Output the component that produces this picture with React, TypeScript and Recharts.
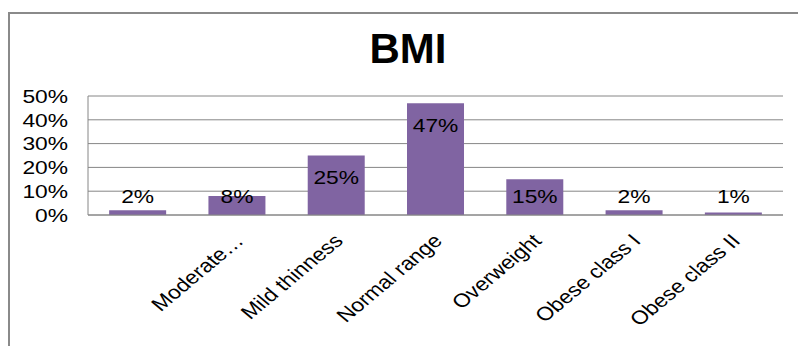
import { BarChart, Bar, XAxis, YAxis, CartesianGrid, LabelList } from 'recharts';

const categories = [
  'Severe thinness',
  'Moderate thinness',
  'Mild thinness',
  'Normal range',
  'Overweight',
  'Obese class I',
  'Obese class II',
];
// what is actually printed under each bar in the original
const tickLabels = ['', 'Moderate…', 'Mild thinness', 'Normal range', 'Overweight', 'Obese class I', 'Obese class II'];
const shares = [2, 8, 25, 47, 15, 2, 1];
const yTicks = [0, 10, 20, 30, 40, 50];

const data = categories.map((name, i) => ({ name, label: tickLabels[i], value: shares[i] }));

const FONT = '"Liberation Sans", Arial, sans-serif';
const STRETCH = 1.2;

function YTick(props: any) {
  const { x, y, payload } = props;
  return (
    <text
      transform={`translate(${x},${y}) scale(${STRETCH},1)`}
      textAnchor="end"
      dy="0.36em"
      fontSize={19}
      fontFamily={FONT}
      fill="#000"
    >
      {`${payload.value}%`}
    </text>
  );
}

function XTick(props: any) {
  const { x, y, index } = props;
  return (
    <text
      transform={`translate(${x + 8},${y + 19}) scale(${STRETCH},1) rotate(-45)`}
      textAnchor="end"
      fontSize={19}
      fontFamily={FONT}
      fill="#000"
    >
      {tickLabels[index]}
    </text>
  );
}

function ValueLabel(props: any) {
  const { x, y, width, height, value } = props;
  const cx = x + width / 2;
  const cy = Math.min(y + 22, y + height - 19);
  return (
    <text
      transform={`translate(${cx},${cy}) scale(${STRETCH},1)`}
      textAnchor="middle"
      dy="0.36em"
      fontSize={19}
      fontFamily={FONT}
      fill="#000"
    >
      {`${value}%`}
    </text>
  );
}

export default function App() {
  return (
    <div
      style={{
        position: 'absolute',
        left: 0,
        top: 0,
        width: 798,
        height: 346,
        overflow: 'hidden',
        background: '#fff',
      }}
    >
      <div
        style={{
          position: 'absolute',
          left: 8,
          top: 12,
          width: 900,
          height: 500,
          borderLeft: '2px solid #8a8a8a',
          borderTop: '2px solid #8a8a8a',
        }}
      />
      <div
        style={{
          position: 'absolute',
          left: 0,
          top: 28,
          width: 816,
          textAlign: 'center',
          fontFamily: FONT,
          fontWeight: 'bold',
          fontSize: 42,
          lineHeight: '42px',
          color: '#000',
        }}
      >
        BMI
      </div>
      <div style={{ position: 'absolute', left: 0, top: 0 }}>
        <BarChart
          width={798}
          height={346}
          data={data}
          margin={{ top: 96, right: 15, bottom: 0, left: 0 }}
          barCategoryGap="21.3%"
        >
          <CartesianGrid vertical={false} stroke="#868686" strokeWidth={1} />
          <XAxis
            dataKey="name"
            interval={0}
            tickLine={false}
            axisLine={{ stroke: '#868686' }}
            tick={<XTick />}
            height={131}
          />
          <YAxis
            width={88}
            domain={[0, 50]}
            ticks={yTicks}
            interval={0}
            tickLine={false}
            axisLine={{ stroke: '#868686' }}
            tick={<YTick />}
            tickMargin={14}
          />
          <Bar dataKey="value" fill="#8064A2" isAnimationActive={false}>
            <LabelList dataKey="value" content={<ValueLabel />} />
          </Bar>
        </BarChart>
      </div>
    </div>
  );
}
